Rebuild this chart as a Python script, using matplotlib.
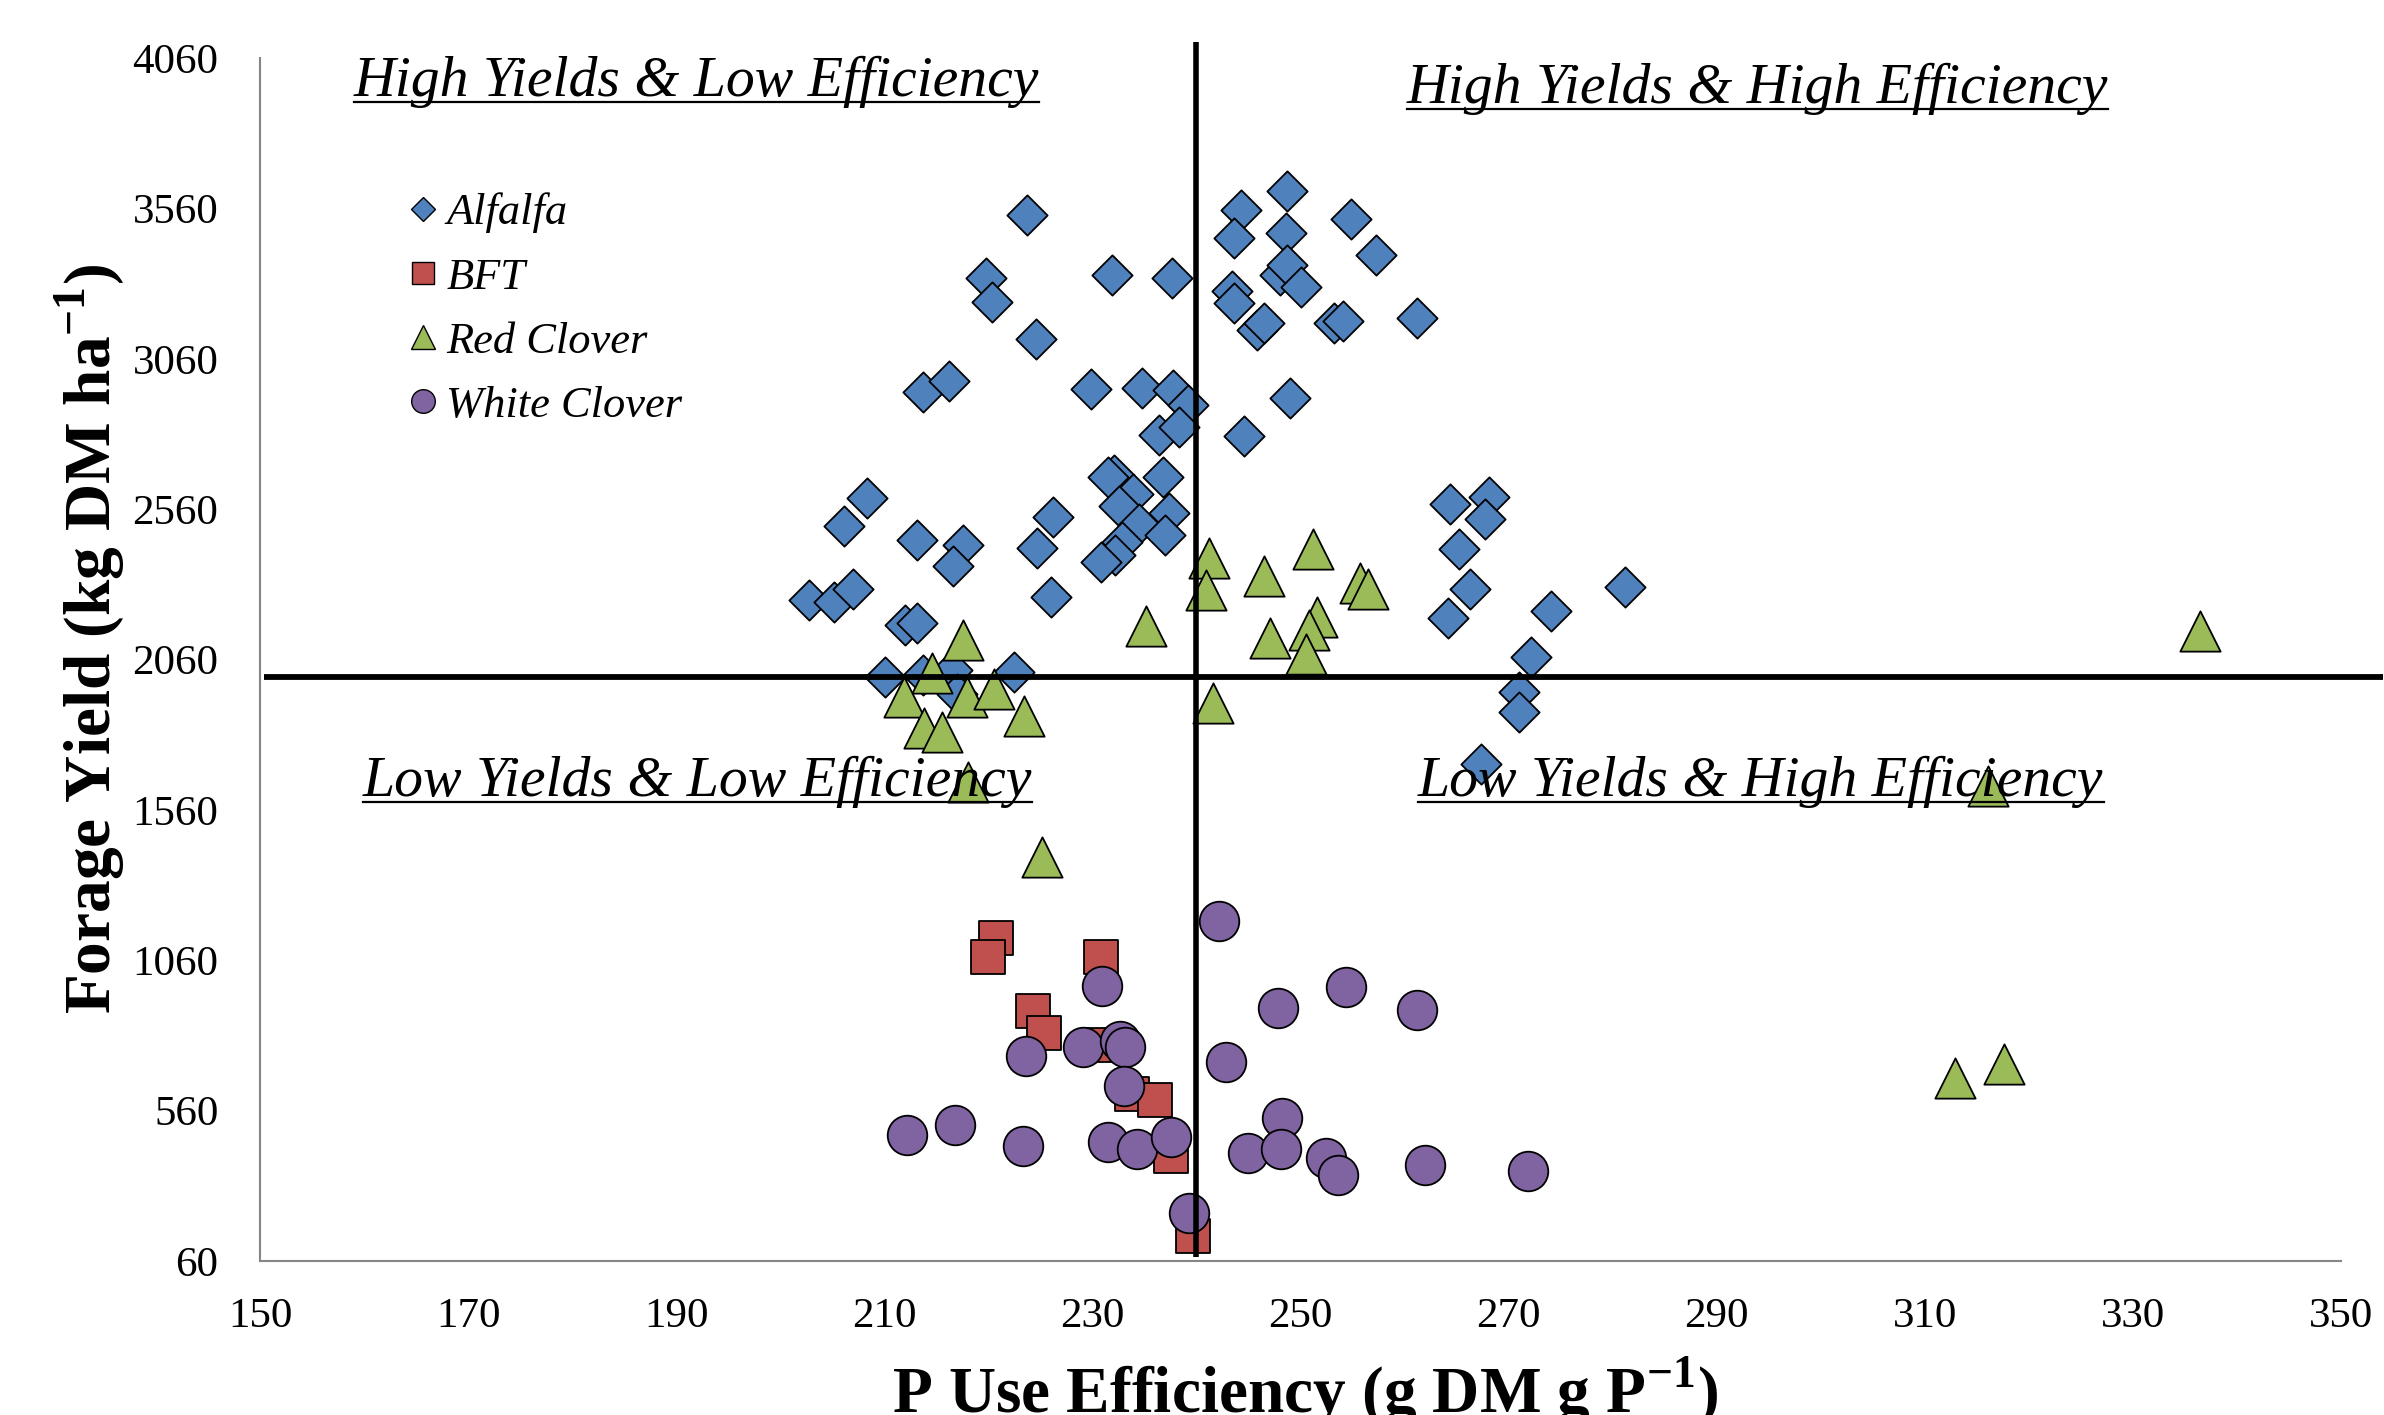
import matplotlib
matplotlib.use('Agg')
import matplotlib.pyplot as plt
from matplotlib.lines import Line2D

# P use efficiency (g DM g P-1) and forage yield (kg DM ha-1)
alfalfa_pue = [223.7, 219.8, 220.3, 224.6, 231.9, 237.6, 213.7, 216.2, 229.9, 234.8,
               237.7, 239.2, 236.4, 238.3, 232.1, 231.5, 236.8, 233.9, 232.5, 237.4,
               234.5, 237.0, 232.8, 232.2, 230.8, 226.2, 224.7, 208.3, 206.1, 213.1,
               217.6, 216.6, 202.8, 205.2, 207.0, 226.0, 212.0, 213.1, 210.1, 213.7,
               216.5, 217.0, 222.5, 244.3, 248.7, 243.6, 248.6, 254.8, 257.2, 243.4,
               243.6, 248.0, 248.7, 250.0, 245.8, 246.5, 253.2, 254.1, 261.2, 249.0,
               244.6, 264.4, 268.1, 267.7, 265.2, 266.3, 264.2, 274.1, 281.2, 272.1,
               271.0, 271.0, 267.3]
alfalfa_yield = [3537, 3327, 3249, 3125, 3338, 3329, 2948, 2986, 2959, 2963,
                 2956, 2906, 2808, 2834, 2675, 2667, 2667, 2612, 2570, 2546,
                 2512, 2474, 2451, 2407, 2383, 2534, 2431, 2596, 2503, 2459,
                 2440, 2371, 2257, 2252, 2293, 2268, 2174, 2180, 2003, 2008,
                 2025, 1947, 2019, 3556, 3617, 3463, 3479, 3524, 3404, 3286,
                 3244, 3338, 3371, 3299, 3155, 3179, 3179, 3186, 3194, 2928,
                 2804, 2577, 2601, 2526, 2427, 2293, 2199, 2221, 2302, 2067,
                 1953, 1886, 1712]

bft_pue = [220.7, 220.0, 230.8, 224.3, 225.3, 231.0, 233.8, 236.0, 237.5, 239.7]
bft_yield = [1135, 1072, 1070, 892, 817, 778, 614, 595, 409, 143]

red_pue = [217.6, 235.1, 214.6, 211.9, 217.9, 220.5, 223.4, 213.8, 215.5, 218.0,
           225.1, 241.2, 246.5, 251.2, 255.7, 256.5, 240.9, 247.1, 251.6, 250.8,
           250.5, 241.6, 336.4, 316.1, 312.9, 317.6]
red_yield = [2124, 2173, 2014, 1936, 1935, 1961, 1872, 1831, 1820, 1652,
             1405, 2396, 2337, 2429, 2313, 2295, 2291, 2133, 2200, 2158,
             2077, 1914, 2154, 1640, 669, 716]

white_pue = [242.2, 230.9, 247.8, 242.8, 223.6, 229.1, 232.6, 233.1, 233.0, 212.2,
             216.8, 223.3, 231.5, 234.3, 237.5, 239.3, 248.2, 244.9, 248.1, 254.4,
             261.2, 252.4, 253.6, 262.0, 271.9]
white_yield = [1190, 975, 902, 723, 743, 772, 792, 772, 642, 479,
               512, 443, 455, 432, 471, 219, 534, 418, 431, 972,
               894, 401, 346, 379, 359]

# quadrant split lines (means)
pue_split = 239.9
yield_split = 2002

x_ticks = [150, 170, 190, 210, 230, 250, 270, 290, 310, 330, 350]
y_ticks = [60, 560, 1060, 1560, 2060, 2560, 3060, 3560, 4060]

plt.rcParams['font.family'] = 'Liberation Serif'
plt.rcParams['mathtext.fontset'] = 'custom'
plt.rcParams['mathtext.rm'] = 'Liberation Serif'
plt.rcParams['mathtext.bf'] = 'Liberation Serif:bold'

fig = plt.figure(figsize=(23.84, 14.15), dpi=100)
ax = fig.add_axes([0.1091, 0.1088, 0.8729, 0.8502])

ax.scatter(alfalfa_pue, alfalfa_yield, marker='D', s=20.5**2, c='#4F81BD',
           edgecolors='black', linewidths=1.3, zorder=3)
ax.scatter(bft_pue, bft_yield, marker='s', s=25**2, c='#C0504D',
           edgecolors='black', linewidths=1.3, zorder=4)
ax.scatter(red_pue, red_yield, marker='^', s=29**2, c='#9BBB59',
           edgecolors='black', linewidths=1.3, zorder=5)
ax.scatter(white_pue, white_yield, marker='o', s=28.5**2, c='#8064A2',
           edgecolors='black', linewidths=1.3, zorder=6)

ax.plot([150.4, 354], [yield_split, yield_split], color='black', lw=4.2,
        clip_on=False, zorder=8, solid_capstyle='butt')
ax.plot([pue_split, pue_split], [73, 4113], color='black', lw=4.0,
        clip_on=False, zorder=8, solid_capstyle='butt')

ax.set_xlim(150, 350)
ax.set_ylim(60, 4060)
ax.set_xticks(x_ticks)
ax.set_yticks(y_ticks)
ax.tick_params(axis='both', length=0, labelsize=31, colors='black')
ax.tick_params(axis='y', pad=30)
ax.tick_params(axis='x', pad=26)
for side in ['top', 'right']:
    ax.spines[side].set_visible(False)
for side in ['left', 'bottom']:
    ax.spines[side].set_color('#868686')
    ax.spines[side].set_linewidth(1.5)

ax.set_xlabel(r'P Use Efficiency (g DM g P$^{\mathbf{-1}}$)', fontsize=47,
              fontweight='bold', va='baseline')
ax.xaxis.set_label_coords(0.502, -0.126)
ax.set_ylabel(r'Forage Yield (kg DM ha$^{\mathbf{-1}}$)', fontsize=47,
              fontweight='bold', ha='center', va='center')
ax.yaxis.set_label_coords(-0.0817, 0.517)

handles = [
    Line2D([], [], ls='none', marker='D', markersize=12, mfc='#4F81BD', mec='black', mew=1),
    Line2D([], [], ls='none', marker='s', markersize=16, mfc='#C0504D', mec='black', mew=1),
    Line2D([], [], ls='none', marker='^', markersize=17, mfc='#9BBB59', mec='black', mew=1),
    Line2D([], [], ls='none', marker='o', markersize=17, mfc='#8064A2', mec='black', mew=1),
]
labels = ['Alfalfa', 'BFT', 'Red Clover', 'White Clover']
ax.legend(handles, labels, loc='upper left', bbox_to_anchor=(0.0702, 0.888),
          frameon=False, borderpad=0, borderaxespad=0, handlelength=0.75,
          handletextpad=0.15, labelspacing=0.54,
          prop={'family': 'Liberation Serif', 'style': 'italic', 'size': 32})

quad_labels = [
    ('High Yields & Low Efficiency', 159.0, 3933),
    ('High Yields & High Efficiency', 260.2, 3910),
    ('Low Yields & Low Efficiency', 159.9, 1606),
    ('Low Yields & High Efficiency', 261.3, 1606),
]
quad_texts = []
for txt, qx, qy in quad_labels:
    t = ax.text(qx, qy, txt, fontsize=41.6, style='italic', ha='left',
                va='baseline', zorder=7)
    quad_texts.append((t, qx, qy))

# underline the quadrant labels
fig.canvas.draw()
renderer = fig.canvas.get_renderer()
for t, qx, qy in quad_texts:
    bb = t.get_window_extent(renderer=renderer)
    base = ax.transData.transform((qx, qy))[1] - 6
    x0, y0 = fig.transFigure.inverted().transform((bb.x0, base))
    x1, _ = fig.transFigure.inverted().transform((bb.x1, base))
    fig.add_artist(Line2D([x0, x1], [y0, y0], color='black', lw=1.6,
                          transform=fig.transFigure))

fig.savefig('out.png', dpi=100)
